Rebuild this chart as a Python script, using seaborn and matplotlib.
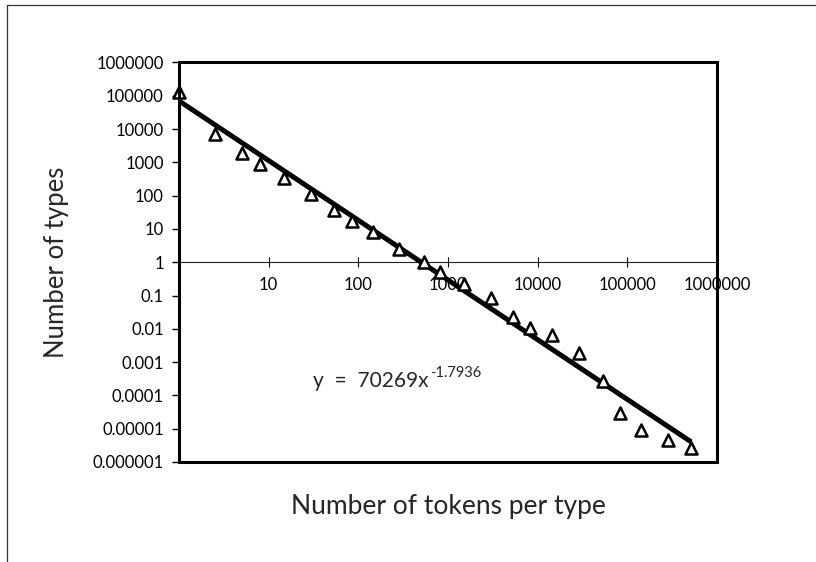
import numpy as np
import pandas as pd
import matplotlib
matplotlib.use("Agg")
import matplotlib.pyplot as plt
from matplotlib.patches import Rectangle
from matplotlib.lines import Line2D
import seaborn as sns

# Frequency spectrum: how many types occur with a given number of tokens
tokens = [1, 2.5, 5, 8, 15, 30, 54, 86, 146, 282, 537, 823, 1495, 3000,
          5370, 8230, 14300, 28800, 53700, 82200, 143000, 282000, 515000]
types = [133000, 6980, 1875, 895, 333, 110, 37, 17.4, 8.0, 2.5, 1.0, 0.52,
         0.22, 0.083, 0.023, 0.0104, 0.0063, 0.0019, 0.00027, 2.9e-5,
         9.2e-6, 4.6e-6, 2.6e-6]

# Power-law trendline y = a * x^b
fit_a = 70269
fit_b = -1.7936
fit_x_range = [1, 515000]

y_ticks = [1e6, 1e5, 1e4, 1e3, 1e2, 1e1, 1, 1e-1, 1e-2, 1e-3, 1e-4, 1e-5, 1e-6]
y_tick_labels = ["1000000", "100000", "10000", "1000", "100", "10", "1",
                 "0.1", "0.01", "0.001", "0.0001", "0.00001", "0.000001"]
x_ticks = [10, 100, 1000, 10000, 100000, 1000000]
x_tick_labels = ["10", "100", "1000", "10000", "100000", "1000000"]

sns.set_style("white")
plt.rcParams["font.family"] = ["Lato", "DejaVu Sans"]

fig = plt.figure(figsize=(8.16, 5.62), dpi=100)
ax = fig.add_axes([0.2194, 0.178, 0.6593, 0.7108])

df = pd.DataFrame({"tokens": tokens, "types": types})
fx = np.logspace(np.log10(fit_x_range[0]), np.log10(fit_x_range[1]), 50)
fit_df = pd.DataFrame({"x": fx, "y": fit_a * fx ** fit_b})

sns.lineplot(data=fit_df, x="x", y="y", ax=ax, color="black", lw=3.6,
             zorder=3, solid_capstyle="butt")
sns.scatterplot(data=df, x="tokens", y="types", ax=ax, marker="^", s=75,
                facecolor="white", edgecolor="black", linewidth=1.8,
                zorder=4, clip_on=False)

ax.set_xscale("log")
ax.set_yscale("log")
ax.set_xlim(1, 1e6)
ax.set_ylim(1e-6, 1e6)
ax.minorticks_off()

ax.set_yticks(y_ticks)
ax.set_yticklabels(y_tick_labels)
ax.set_xticks(x_ticks)
ax.set_xticklabels(x_tick_labels)

# Horizontal axis crosses at y = 1
for side in ["top", "right", "left"]:
    ax.spines[side].set_visible(False)
ax.spines["bottom"].set_position(("data", 1))
ax.spines["bottom"].set_linewidth(0.8)
ax.spines["bottom"].set_color("#222222")
ax.spines["bottom"].set_zorder(2)

ax.tick_params(axis="x", direction="inout", length=7, width=0.8,
               pad=7, labelsize=12, colors="black", bottom=True)
ax.tick_params(axis="y", direction="out", length=5, width=1.0,
               pad=6, labelsize=12, colors="black", left=True)

# Plot-area border
ax.add_patch(Rectangle((0, 0), 1, 1, transform=ax.transAxes, fill=False,
                       edgecolor="black", lw=2.2, clip_on=False, zorder=5))

ax.set_xlabel("Number of tokens per type", fontsize=19, va="center")
ax.set_ylabel("Number of types", fontsize=18.5, va="center")
ax.xaxis.set_label_coords(0.5, -0.112)
ax.yaxis.set_label_coords(-0.228, 0.5)

# Trendline equation with its exponent as a superscript
eq = ax.text(0.249, 0.188, "y  =  70269x", transform=ax.transAxes,
             fontsize=15, va="baseline", ha="left")
ax.annotate("-1.7936", xy=(1, 0.55), xycoords=eq, xytext=(1, 0),
            textcoords="offset points", fontsize=10.5, va="bottom",
            ha="left")

# Outer frame (top and left edges)
fig.add_artist(Line2D([7 / 816, 1], [1 - 5 / 562, 1 - 5 / 562],
                      transform=fig.transFigure, color="#333333", lw=0.9))
fig.add_artist(Line2D([7 / 816, 7 / 816], [0, 1 - 5 / 562],
                      transform=fig.transFigure, color="#333333", lw=0.9))

fig.savefig("out.png", dpi=100, facecolor="white")
